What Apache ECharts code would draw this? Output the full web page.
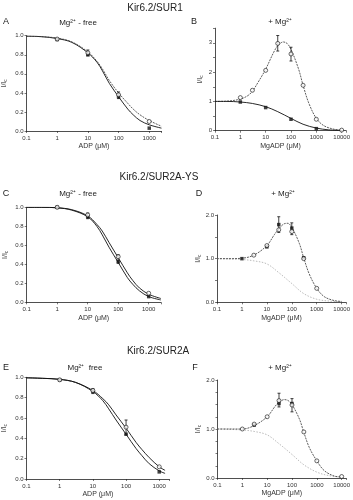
<!DOCTYPE html>
<html>
<head>
<meta charset="utf-8">
<script src="https://cdn.jsdelivr.net/npm/echarts@6/dist/echarts.min.js"></script>
<style>
  html, body { margin: 0; padding: 0; background: #fff; }
  #chart { width: 353px; height: 500px; }
</style>
</head>
<body>
<div id="chart"></div>
<script>
// ---- data ----
// A: Kir6.2/SUR1, Mg-free
const aCurveX = [0.1, 0.3, 1, 3, 10, 20, 30, 50, 100, 200, 300, 500, 1000, 2500];
const aFitOpen = [0.995, 0.99, 0.975, 0.935, 0.83, 0.73, 0.65, 0.53, 0.4, 0.29, 0.23, 0.17, 0.11, 0.05];
const aFitFilled = [0.995, 0.99, 0.97, 0.93, 0.82, 0.72, 0.63, 0.5, 0.36, 0.23, 0.17, 0.11, 0.065, 0.03];
const aPtX = [1, 10, 100, 1000];
const aOpenY = [0.965, 0.82, 0.38, 0.1];
const aFilledY = [0.96, 0.8, 0.36, 0.03];
const aErrX = [10, 100];
const aErrLo = [0.79, 0.34];
const aErrHi = [0.85, 0.41];

// B: Kir6.2/SUR1, + Mg
const bCurveX = [0.1, 0.3, 1, 2, 3, 5, 10, 20, 30, 50, 70, 100, 200, 300, 500, 1000, 2000, 5000, 10000];
const bFitOpen = [1.0, 1.01, 1.08, 1.2, 1.35, 1.65, 2.1, 2.65, 2.9, 3.03, 2.98, 2.78, 2.1, 1.55, 0.95, 0.42, 0.17, 0.05, 0.02];
const bLowX = [0.1, 0.3, 1, 3, 10, 30, 100, 300, 1000, 3000, 10000];
const bFitFilled = [1.0, 1.0, 0.98, 0.93, 0.82, 0.65, 0.42, 0.22, 0.09, 0.03, 0.01];
const bOpenX = [1, 3, 10, 30, 100, 300, 1000, 10000];
const bOpenY = [1.13, 1.38, 2.06, 2.98, 2.62, 1.55, 0.39, 0.02];
const bFilledX = [1, 10, 100, 1000];
const bFilledY = [0.98, 0.79, 0.39, 0.07];
const bErrX = [30, 100];
const bErrLo = [2.72, 2.38];
const bErrHi = [3.25, 2.85];

// C: Kir6.2/SUR2A-YS, Mg-free
const cCurveX = [0.1, 0.3, 1, 3, 10, 20, 30, 50, 100, 200, 300, 500, 1000, 2500];
const cFitOpen = [1.0, 1.0, 0.995, 0.975, 0.91, 0.82, 0.75, 0.63, 0.47, 0.31, 0.23, 0.15, 0.085, 0.04];
const cFitFilled = [1.0, 1.0, 0.995, 0.97, 0.9, 0.8, 0.71, 0.58, 0.42, 0.26, 0.19, 0.12, 0.06, 0.025];
const cPtX = [1, 10, 100, 1000];
const cOpenY = [1.0, 0.92, 0.48, 0.095];
const cFilledY = [1.0, 0.9, 0.43, 0.06];
const cErrX = [10, 100];
const cErrLo = [0.88, 0.41];
const cErrHi = [0.94, 0.5];

// D: Kir6.2/SUR2A-YS, + Mg
const dCurveX = [0.1, 0.3, 1, 3, 10, 20, 30, 50, 70, 100, 200, 300, 500, 1000, 2000, 5000, 10000];
const dFitOpen = [1.0, 1.0, 1.01, 1.08, 1.3, 1.55, 1.68, 1.8, 1.81, 1.72, 1.35, 1.02, 0.65, 0.32, 0.13, 0.04, 0.02];
const dLowX = [0.1, 1, 3, 10, 30, 100, 300, 1000, 3000, 10000];
const dFitLow = [1.0, 0.98, 0.95, 0.88, 0.68, 0.43, 0.2, 0.07, 0.03, 0.01];
const dOpenX = [3, 10, 30, 100, 300, 1000];
const dOpenY = [1.08, 1.3, 1.66, 1.62, 1.0, 0.32];
const dFilledX = [1, 10, 30, 100, 300];
const dFilledY = [1.0, 1.27, 1.78, 1.7, 1.02];
const dErrX = [30, 100];
const dErrLo = [1.6, 1.55];
const dErrHi = [1.96, 1.82];

// E: Kir6.2/SUR2A, Mg-free
const eCurveX = [0.1, 0.3, 1, 3, 10, 20, 30, 50, 100, 200, 300, 500, 1000, 1500];
const eFitOpen = [0.995, 0.99, 0.98, 0.95, 0.87, 0.79, 0.73, 0.63, 0.5, 0.36, 0.29, 0.21, 0.12, 0.085];
const eFitFilled = [0.995, 0.99, 0.98, 0.95, 0.86, 0.77, 0.69, 0.58, 0.44, 0.3, 0.23, 0.15, 0.08, 0.055];
const ePtX = [1, 10, 100, 1000];
const eOpenY = [0.975, 0.87, 0.51, 0.12];
const eFilledY = [0.975, 0.86, 0.44, 0.07];
const eErrX = [10, 100];
const eErrLo = [0.84, 0.44];
const eErrHi = [0.89, 0.58];

// F: Kir6.2/SUR2A, + Mg
const fCurveX = [0.1, 0.3, 1, 3, 10, 20, 30, 50, 70, 100, 200, 300, 500, 1000, 2000, 5000, 10000];
const fFitOpen = [1.0, 1.0, 1.0, 1.07, 1.25, 1.45, 1.55, 1.6, 1.58, 1.5, 1.2, 0.93, 0.62, 0.35, 0.15, 0.04, 0.02];
const fLowX = [0.1, 1, 3, 10, 30, 100, 300, 1000, 3000, 10000];
const fFitLow = [1.0, 0.98, 0.95, 0.88, 0.7, 0.48, 0.27, 0.12, 0.05, 0.02];
const fOpenX = [1, 3, 10, 30, 100, 300, 1000, 10000];
const fOpenY = [1.0, 1.1, 1.25, 1.58, 1.49, 0.94, 0.35, 0.03];
const fFilledX = [3, 30, 100];
const fFilledY = [1.08, 1.52, 1.52];
const fErrX = [30, 100];
const fErrLo = [1.45, 1.35];
const fErrHi = [1.73, 1.62];

// ---- layout ----
const FONT = 'Liberation Sans, Arial, sans-serif';
const zip = (xs, ys) => xs.map((x, k) => [x, ys[k]]);

// left px, top px, height px, px per decade, x max, y max, y interval
const panels = [
  { left: 26, top: 35.7, height: 95.3, dec: 30.8, xMax: 2500, yMax: 1, yInt: 0.2, lab: v => v.toFixed(1), xName: 'ADP (\u03bcM)' },
  { left: 215, top: 28.2, height: 102.5, dec: 25.5, xMax: 15000, yMax: 3.5, yInt: 0.5, lab: v => (v % 1 === 0 ? String(v) : ''), xName: 'MgADP (\u03bcM)' },
  { left: 26.7, top: 207.3, height: 95, dec: 30.5, xMax: 2500, yMax: 1, yInt: 0.2, lab: v => v.toFixed(1), xName: 'ADP (\u03bcM)' },
  { left: 217, top: 215, height: 87.3, dec: 25.3, xMax: 15000, yMax: 2, yInt: 0.5, lab: v => (v % 1 === 0 ? v.toFixed(1) : ''), xName: 'MgADP (\u03bcM)' },
  { left: 26, top: 377.3, height: 101.7, dec: 33.3, xMax: 2000, yMax: 1, yInt: 0.2, lab: v => v.toFixed(1), xName: 'ADP (\u03bcM)' },
  { left: 217.5, top: 380, height: 98, dec: 25.2, xMax: 15000, yMax: 2, yInt: 0.25, lab: v => (v % 1 === 0 ? v.toFixed(1) : ''), xName: 'MgADP (\u03bcM)' }
];

const grid = panels.map(p => ({
  left: p.left,
  top: p.top,
  width: Math.log10(p.xMax / 0.1) * p.dec,
  height: p.height,
  containLabel: false
}));

const axisLine = { lineStyle: { color: '#222', width: 0.8 } };

const xAxis = panels.map((p, i) => ({
  type: 'log',
  logBase: 10,
  gridIndex: i,
  min: 0.1,
  max: p.xMax,
  axisLine: axisLine,
  axisTick: { length: 2, lineStyle: { color: '#222', width: 0.6 } },
  splitLine: { show: false },
  axisLabel: {
    interval: 0,
    fontSize: 6,
    fontFamily: FONT,
    color: '#333',
    margin: 4,
    formatter: v => {
      const l = Math.log10(v);
      return Math.abs(l - Math.round(l)) < 1e-6 ? String(+v.toPrecision(3)) : '';
    }
  },
  name: p.xName,
  nameLocation: 'middle',
  nameGap: 12,
  nameTextStyle: { fontSize: 7, fontFamily: FONT, color: '#333' }
}));

const yAxis = panels.map((p, i) => ({
  type: 'value',
  gridIndex: i,
  min: 0,
  max: p.yMax,
  interval: p.yInt,
  axisLine: { show: true, lineStyle: { color: '#222', width: 0.8 } },
  axisTick: { show: true, length: 2, lineStyle: { color: '#222', width: 0.6 } },
  splitLine: { show: false },
  axisLabel: { interval: 0, fontSize: 6, fontFamily: FONT, color: '#333', margin: 3, formatter: p.lab },
  name: '{m|I/I}{s|c}',
  nameLocation: 'middle',
  nameGap: p.left < 100 ? 18 : 11,
  nameTextStyle: {
    fontFamily: FONT,
    color: '#333',
    rich: { m: { fontSize: 7, fontFamily: FONT }, s: { fontSize: 5, fontFamily: FONT, verticalAlign: 'bottom', padding: [3, 0, 0, 0] } }
  }
}));

const series = [];
function curve(i, xs, ys, style) {
  series.push({
    type: 'line', xAxisIndex: i, yAxisIndex: i,
    data: zip(xs, ys), showSymbol: false, smooth: 0.35, silent: true,
    lineStyle: style, z: 2
  });
}
function points(i, xs, ys, open) {
  series.push({
    type: 'scatter', xAxisIndex: i, yAxisIndex: i,
    data: zip(xs, ys),
    symbol: open ? 'circle' : 'rect',
    symbolSize: open ? 4 : 3.5,
    itemStyle: open ? { color: '#fff', borderColor: '#111', borderWidth: 0.8 } : { color: '#111' },
    z: open ? 5 : 4
  });
}
function errors(i, xs, lo, hi) {
  series.push({
    type: 'custom', xAxisIndex: i, yAxisIndex: i,
    data: xs.map((x, k) => [x, lo[k], hi[k]]),
    renderItem: (params, api) => {
      const a = api.coord([api.value(0), api.value(1)]);
      const b = api.coord([api.value(0), api.value(2)]);
      const st = { stroke: '#111', lineWidth: 0.8 };
      return {
        type: 'group',
        children: [
          { type: 'line', shape: { x1: a[0], y1: a[1], x2: b[0], y2: b[1] }, style: st },
          { type: 'line', shape: { x1: a[0] - 1.5, y1: a[1], x2: a[0] + 1.5, y2: a[1] }, style: st },
          { type: 'line', shape: { x1: b[0] - 1.5, y1: b[1], x2: b[0] + 1.5, y2: b[1] }, style: st }
        ]
      };
    },
    z: 3
  });
}

const solid = { color: '#111', width: 0.9 };
const dashed = { color: '#333', width: 0.8, type: [2, 1] };
const grey = { color: '#aaa', width: 0.8, type: [1.5, 1.5] };

// A
curve(0, aCurveX, aFitFilled, solid);
curve(0, aCurveX, aFitOpen, dashed);
errors(0, aErrX, aErrLo, aErrHi);
points(0, aPtX, aFilledY, false);
points(0, aPtX, aOpenY, true);
// B
curve(1, bCurveX, bFitOpen, dashed);
curve(1, bLowX, bFitFilled, solid);
errors(1, bErrX, bErrLo, bErrHi);
points(1, bFilledX, bFilledY, false);
points(1, bOpenX, bOpenY, true);
// C
curve(2, cCurveX, cFitFilled, solid);
curve(2, cCurveX, cFitOpen, solid);
errors(2, cErrX, cErrLo, cErrHi);
points(2, cPtX, cFilledY, false);
points(2, cPtX, cOpenY, true);
// D
curve(3, dLowX, dFitLow, grey);
curve(3, dCurveX, dFitOpen, dashed);
errors(3, dErrX, dErrLo, dErrHi);
points(3, dFilledX, dFilledY, false);
points(3, dOpenX, dOpenY, true);
// E
curve(4, eCurveX, eFitFilled, solid);
curve(4, eCurveX, eFitOpen, solid);
errors(4, eErrX, eErrLo, eErrHi);
points(4, ePtX, eFilledY, false);
points(4, ePtX, eOpenY, true);
// F
curve(5, fLowX, fFitLow, grey);
curve(5, fCurveX, fFitOpen, dashed);
errors(5, fErrX, fErrLo, fErrHi);
points(5, fFilledX, fFilledY, false);
points(5, fOpenX, fOpenY, true);

function label(x, y, text, size) {
  return {
    type: 'text', x: x, y: y, silent: true,
    style: { text: text, fontSize: size, fontFamily: FONT, fill: '#222', textAlign: 'center', textVerticalAlign: 'middle' }
  };
}

const graphic = [
  label(155, 8, 'Kir6.2/SUR1', 10),
  label(159, 177, 'Kir6.2/SUR2A-YS', 10),
  label(158, 351, 'Kir6.2/SUR2A', 10),
  label(6, 22, 'A', 9), label(194, 22, 'B', 9),
  label(6, 194, 'C', 9), label(199, 194, 'D', 9),
  label(6, 368, 'E', 9), label(195, 368, 'F', 9),
  label(78, 23, 'Mg\u00b2\u207a - free', 8),
  label(280, 22, '+ Mg\u00b2\u207a', 8),
  label(78, 194, 'Mg\u00b2\u207a - free', 8),
  label(283, 194, '+ Mg\u00b2\u207a', 8),
  label(85, 368, 'Mg\u00b2\u207a  free', 8),
  label(280, 368, '+ Mg\u00b2\u207a', 8)
];

const chart = echarts.init(document.getElementById('chart'), null, { renderer: 'canvas' });
chart.setOption({
  animation: false,
  backgroundColor: '#fff',
  grid: grid,
  xAxis: xAxis,
  yAxis: yAxis,
  series: series,
  graphic: graphic
});
</script>
</body>
</html>
